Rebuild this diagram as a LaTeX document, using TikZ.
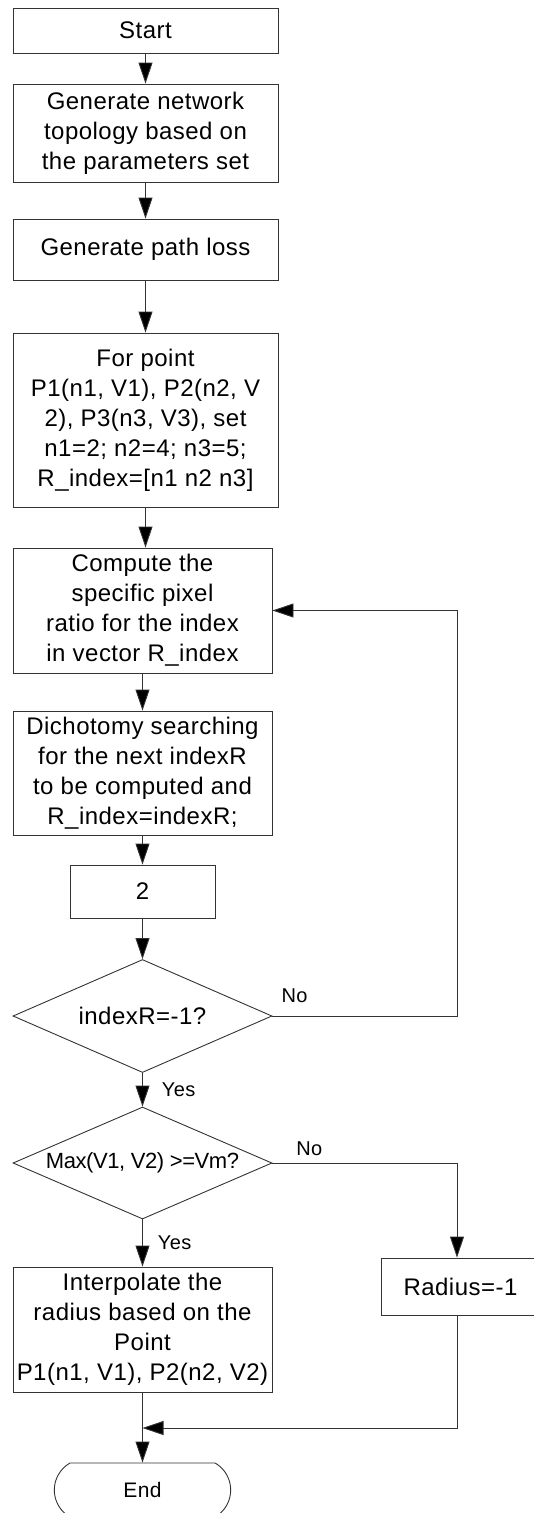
\documentclass[tikz,border=0pt]{standalone}
\usepackage{fontspec}
\setmainfont{Liberation Sans}[LetterSpace=2]
\usetikzlibrary{arrows.meta,shapes.geometric,shapes.misc}

\tikzset{
  box/.style={draw=black!80, line width=0.9pt, inner sep=2pt, align=center,
              font=\fontsize{24}{30}\selectfont},
  decision/.style={diamond, draw=black!80, line width=0.9pt, inner ysep=0pt,
              inner xsep=-30pt, aspect=2.3, font=\fontsize{24}{30}\selectfont},
  terminal/.style={rounded rectangle, rounded rectangle arc length=120,
              draw=black!80, line width=0.9pt, font=\fontsize{21}{24}\selectfont},
  lbl/.style={font=\fontsize{20}{24}\selectfont, inner sep=1pt},
  arr/.style={draw=black!80, line width=0.9pt,
              -{Triangle[length=21pt,width=14pt,fill=black]}}
}

\begin{document}
\begin{tikzpicture}[x=1pt,y=-1pt]
\useasboundingbox (0,0) rectangle (534,1513);
\clip (0,0) rectangle (534,1513);

% main column
\node[box, minimum width=265pt, minimum height=45pt] (start) at (145.5,30.5) {Start};
\node[box, minimum width=265pt, minimum height=98pt] (gen) at (145.5,133)
  {Generate network\\topology based on\\the parameters set};
\node[box, minimum width=265pt, minimum height=61pt] (loss) at (145.5,249.5)
  {Generate path loss};
\node[box, minimum width=265pt, minimum height=174pt] (pts) at (145.5,420)
  {For point\\P1(n1, V1), P2(n2, V\\2), P3(n3, V3), set\\n1=2; n2=4; n3=5;\\R\_index=[n1 n2 n3]};
\node[box, minimum width=259pt, minimum height=125pt] (comp) at (142.5,610.5)
  {Compute the\\specific pixel\\ratio for the index\\in vector R\_index};
\node[box, minimum width=259pt, minimum height=124pt] (dich) at (142.5,773)
  {Dichotomy searching\\for the next indexR\\to be computed and\\R\_index=indexR;};
\node[box, minimum width=145pt, minimum height=53pt] (two) at (142.5,891.5) {2};
\node[decision, minimum width=259pt, minimum height=113pt] (d1) at (142.5,1016)
  {indexR=-1?};
\node[decision, minimum width=259pt, minimum height=112pt,
      font=\fontsize{22}{28}\selectfont] (d2) at (142.5,1163)
  {\addfontfeature{LetterSpace=-2}Max(V1, V2) >=Vm?};
\node[box, minimum width=259pt, minimum height=125pt] (interp) at (142.5,1329.5)
  {Interpolate the\\radius based on the\\Point\\P1(n1, V1), P2(n2, V2)};
\node[box, minimum width=159pt, minimum height=57pt] (radius) at (460.5,1286.5)
  {Radius=-1};
\node[terminal, minimum width=183pt, minimum height=54pt] (end) at (142.5,1490) {End};

% helper points for the side routes
\coordinate (loopx) at (457,0);
\coordinate (merge) at (142.5,1428);

% straight flow
\draw[arr] (start) -- (gen);
\draw[arr] (gen) -- (loss);
\draw[arr] (loss) -- (pts);
\draw[arr] (pts.south) -- (pts.south |- comp.north);
\draw[arr] (comp) -- (dich);
\draw[arr] (dich) -- (two);
\draw[arr] (two) -- (d1);
\draw[arr] (d1) -- node[lbl, right=18pt] {Yes} (d2);
\draw[arr] (d2) -- node[lbl, right=14pt] {Yes} (interp);
\draw[arr] (interp) -- (end);

% loop back when indexR is not -1
\draw[arr] (d1.east) -- node[lbl, pos=0.12, above=12pt] {No} (d1.east -| loopx)
  |- (comp.east);

% failure branch
\draw[arr] (d2.east) -- node[lbl, pos=0.2, above=6pt] {No} (d2.east -| loopx)
  -- (loopx |- radius.north);
\draw[arr] (loopx |- radius.south) |- (merge);
\end{tikzpicture}
\end{document}
